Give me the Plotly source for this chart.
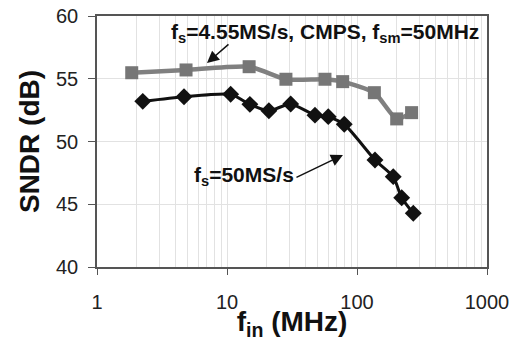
import plotly.graph_objects as go

# Data
fin_cmps = [1.85, 4.84, 14.8, 28.4, 56.7, 77.6, 136, 202, 263]
sndr_cmps = [55.48, 55.7, 55.96, 54.96, 54.96, 54.77, 53.89, 51.8, 52.3]
fin_50 = [2.25, 4.67, 10.67, 15.0, 21.0, 30.9, 47.5, 60.1, 79.8, 137.5, 190, 220.7, 271]
sndr_50 = [53.2, 53.57, 53.76, 52.96, 52.45, 52.99, 52.1, 51.98, 51.37, 48.53, 47.2, 45.52, 44.28]
x_ticks = [1, 10, 100, 1000]
y_ticks = [40, 45, 50, 55, 60]

FONT = "Liberation Sans, Arial"

fig = go.Figure()
fig.add_trace(go.Scatter(x=fin_cmps, y=sndr_cmps, mode="lines+markers",
                         line=dict(color="#808080", width=4.5, shape="spline", smoothing=0.6),
                         marker=dict(symbol="square", size=13, color="#767676")))
fig.add_trace(go.Scatter(x=fin_50, y=sndr_50, mode="lines+markers",
                         line=dict(color="#111111", width=3, shape="spline", smoothing=0.6),
                         marker=dict(symbol="diamond", size=13, color="#111111")))

fig.add_annotation(x=1.754, y=58.65, xref="x", yref="y", showarrow=False,
                   text="<b>f<sub>s</sub>=4.55MS/s, CMPS, f<sub>sm</sub>=50MHz</b>",
                   font=dict(family=FONT, size=21, color="#111"))
fig.add_annotation(x=1.131, y=47.25, xref="x", yref="y", showarrow=False,
                   text="<b>f<sub>s</sub>=50MS/s</b>",
                   font=dict(family=FONT, size=21, color="#111"))
fig.add_annotation(x=0.846, y=56.25, xref="x", yref="y", ax=23, ay=-20, text="",
                   showarrow=True, arrowhead=2, arrowsize=1.6, arrowwidth=1.5, arrowcolor="#111")
fig.add_annotation(x=1.892, y=48.92, xref="x", yref="y", ax=-48, ay=23, text="",
                   showarrow=True, arrowhead=2, arrowsize=1.6, arrowwidth=1.5, arrowcolor="#111")

fig.update_xaxes(type="log", range=[0, 3], tickvals=x_ticks, ticktext=[str(v) for v in x_ticks],
                 automargin=False,
                 showgrid=True, gridcolor="#e2e2e2", gridwidth=1,
                 minor=dict(showgrid=True, gridcolor="#e2e2e2", dtick="D1", ticks=""),
                 showline=True, linecolor="#555", linewidth=1.5, mirror=True,
                 ticks="outside", ticklen=6, tickcolor="#555", ticklabelstandoff=10,
                 tickfont=dict(family=FONT, size=20, color="#222"),
                 title=dict(text="<b>f<sub>in</sub> (MHz)</b>", standoff=0,
                            font=dict(family=FONT, size=28, color="#111")),
                 zeroline=False)
fig.update_yaxes(range=[40, 60], tickvals=y_ticks, automargin=False,
                 showgrid=True, gridcolor="#e2e2e2", gridwidth=1,
                 showline=True, linecolor="#555", linewidth=1.5, mirror=True,
                 ticks="outside", ticklen=7, tickcolor="#555", ticklabelstandoff=6,
                 tickfont=dict(family=FONT, size=20, color="#222"),
                 title=dict(text="<b>SNDR (dB)</b>", standoff=8,
                            font=dict(family=FONT, size=28, color="#111")),
                 zeroline=False)

fig.update_layout(width=521, height=341, margin=dict(l=97, r=34, t=16, b=74),
                  plot_bgcolor="white", paper_bgcolor="white", showlegend=False)
fig.write_html("out.html", config={"displayModeBar": False},
               post_script="document.body.style.margin='0';")
